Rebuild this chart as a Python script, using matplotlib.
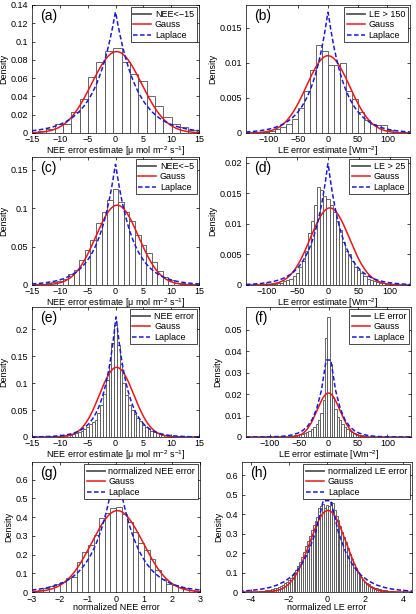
import numpy as np
import matplotlib.pyplot as plt
from matplotlib.lines import Line2D

plt.rcParams['font.family'] = ['Liberation Sans', 'DejaVu Sans']
plt.rcParams['mathtext.default'] = 'regular'
plt.rcParams['font.size'] = 6.5

# ---- histogram data (bin centres, bin width, density) ----
# (a) NEE < -15
a_centers = np.arange(-13.17, 14.0, 1.5)
a_dens = [0.002, 0.004, 0.010, 0.010, 0.023, 0.037, 0.061, 0.078, 0.090, 0.093,
          0.078, 0.065, 0.057, 0.041, 0.030, 0.017, 0.010, 0.007, 0.003]
# (b) LE > 150
b_centers = np.arange(-125, 126, 10)
b_dens = [0.0001, 0.0001, 0.0002, 0.0003, 0.0005, 0.0008, 0.0013, 0.0020, 0.0035,
          0.0060, 0.0090, 0.0125, 0.0117, 0.0097, 0.0096, 0.0100, 0.0060, 0.0048,
          0.0030, 0.0018, 0.0013, 0.0012, 0.0012, 0.0004, 0.0002, 0.0001]
# (c) NEE < -5
c_centers = np.arange(-14, 15, 1)
c_dens = [0.001, 0.001, 0.002, 0.004, 0.005, 0.008, 0.014, 0.020, 0.033, 0.046,
          0.058, 0.080, 0.095, 0.110, 0.125, 0.108, 0.095, 0.083, 0.065, 0.052,
          0.042, 0.030, 0.018, 0.010, 0.006, 0.003, 0.002, 0.001, 0.001]
# (d) LE > 25
d_centers = np.arange(-100, 101, 5)
d_dens = [0.0001, 0.0001, 0.0002, 0.0002, 0.0003, 0.0004, 0.0006, 0.0008, 0.0010,
          0.0015, 0.0020, 0.0030, 0.0040, 0.0055, 0.0085, 0.0105, 0.0130, 0.0160,
          0.0155, 0.0145, 0.0140, 0.0130, 0.0120, 0.0105, 0.0090, 0.0070, 0.0055,
          0.0050, 0.0040, 0.0030, 0.0025, 0.0020, 0.0015, 0.0010, 0.0008, 0.0006,
          0.0005, 0.0004, 0.0003, 0.0002, 0.0001]
# (e) all NEE errors
e_centers = np.arange(-12, 12.1, 0.5)
e_dens = [0.000, 0.001, 0.002, 0.002, 0.002, 0.002, 0.003, 0.003, 0.004, 0.005,
          0.007, 0.009, 0.011, 0.014, 0.018, 0.024, 0.028, 0.032, 0.045, 0.060,
          0.080, 0.105, 0.135, 0.175, 0.208, 0.170, 0.135, 0.100, 0.078, 0.060,
          0.050, 0.043, 0.036, 0.029, 0.022, 0.018, 0.014, 0.011, 0.009, 0.007,
          0.005, 0.004, 0.003, 0.002, 0.002, 0.001, 0.001, 0.001, 0.000]
# (f) all LE errors
f_centers = np.arange(-60, 61, 4)
f_dens = [0.0005, 0.0007, 0.0009, 0.0012, 0.0015, 0.0018, 0.0022, 0.0028, 0.0035,
          0.0045, 0.0060, 0.0080, 0.0110, 0.0170, 0.0460, 0.0560, 0.0340, 0.0180,
          0.0130, 0.0095, 0.0080, 0.0060, 0.0045, 0.0035, 0.0028, 0.0022, 0.0018,
          0.0014, 0.0010, 0.0008, 0.0006]
# (g) normalized NEE error
g_centers = np.arange(-2.9, 3.0, 0.2)
g_dens = [0.005, 0.012, 0.020, 0.030, 0.045, 0.055, 0.075, 0.080, 0.160, 0.215,
          0.250, 0.305, 0.395, 0.420, 0.450, 0.455, 0.415, 0.375, 0.320, 0.260,
          0.225, 0.175, 0.120, 0.070, 0.045, 0.035, 0.025, 0.020, 0.012, 0.008]
# (h) normalized LE error
h_centers = np.arange(-3.5, 3.51, 0.1)
h_dens = [0.005, 0.006, 0.007, 0.008, 0.010, 0.012, 0.014, 0.016, 0.019, 0.022,
          0.026, 0.031, 0.037, 0.044, 0.052, 0.062, 0.072, 0.085, 0.100, 0.115,
          0.135, 0.155, 0.180, 0.205, 0.235, 0.265, 0.290, 0.320, 0.345, 0.365,
          0.385, 0.430, 0.440, 0.455, 0.430, 0.450, 0.440, 0.465, 0.460, 0.420,
          0.390, 0.370, 0.340, 0.310, 0.285, 0.255, 0.225, 0.195, 0.170, 0.145,
          0.125, 0.105, 0.090, 0.075, 0.064, 0.054, 0.046, 0.039, 0.033, 0.028,
          0.023, 0.019, 0.016, 0.013, 0.011, 0.009, 0.008, 0.007, 0.006, 0.005,
          0.004]

# fitted curves: gauss (mean, sigma), laplace (mean, scale b, peak), x step of the curve
fits = {
    'a': (0.2, 4.48, 0.0, 3.76, 0.133, 0.05),
    'b': (0.0, 36.3, 0.0, 28.9, 0.0173, 0.5),
    'c': (0.3, 3.84, 0.0, 3.16, 0.158, 0.05),
    'd': (3.0, 31.7, 0.0, 25.0, 0.020, 0.5),
    'e': (0.2, 3.09, 0.1, 2.22, 0.225, 0.05),
    'f': (0.0, 19.5, 0.0, 16.0, 0.046, 8.0),
    'g': (0.05, 0.917, 0.0, 0.72, 0.694, 0.01),
    'h': (0.05, 0.95, 0.0, 0.935, 0.582, 0.4),
}

nee_label = r'NEE error estimate [$\mu$ mol m$^{-2}$ s$^{-1}$]'
le_label = r'LE error estimate [Wm$^{-2}$]'

# name, box (left, top, right, bottom px), centres, width, dens, xlim, ylim, yticks, xticks, legend, xlabel
panels = [
    ('a', (32, 5, 199, 133), a_centers, 1.5, a_dens, (-15, 15), 0.14,
     np.arange(0, 0.141, 0.02), np.arange(-15, 16, 5), 'NEE<\u221215', nee_label),
    ('b', (246, 5, 410, 133), b_centers, 10, b_dens, (-138, 138), 0.0182,
     [0, 0.005, 0.01, 0.015], [-100, -50, 0, 50, 100], 'LE > 150', le_label),
    ('c', (32, 157, 199, 285), c_centers, 1.0, c_dens, (-15, 15), 0.1665,
     [0, 0.05, 0.1, 0.15], np.arange(-15, 16, 5), 'NEE<\u22125', nee_label),
    ('d', (246, 157, 410, 285), d_centers, 5, d_dens, (-133, 133), 0.0209,
     [0, 0.005, 0.01, 0.015, 0.02], [-100, -50, 0, 50, 100], 'LE > 25', le_label),
    ('e', (32, 307, 199, 437), e_centers, 0.5, e_dens, (-15, 15), 0.241,
     [0, 0.05, 0.1, 0.15, 0.2], np.arange(-15, 16, 5), 'NEE error', nee_label),
    ('f', (246, 307, 411, 437), f_centers, 4, f_dens, (-140, 140), 0.0605,
     [0, 0.01, 0.02, 0.03, 0.04, 0.05], [-100, -50, 0, 50, 100], 'LE error', le_label),
    ('g', (32, 462, 200, 592), g_centers, 0.2, g_dens, (-3, 3), 0.695,
     np.arange(0, 0.61, 0.1), np.arange(-3, 4, 1), 'normalized NEE error', 'normalized NEE error'),
    ('h', (242, 462, 412, 592), h_centers, 0.1, h_dens, (-4.45, 4.45), 0.669,
     np.arange(0, 0.61, 0.1), [-4, -2, 0, 2, 4], 'normalized LE error', 'normalized LE error'),
]

W, H = 416, 614
fig = plt.figure(figsize=(W / 100, H / 100), dpi=100)

for name, box, centers, width, dens, xlim, ytop, yticks, xticks, leg, xlabel in panels:
    l, t, r, b = box
    ax = fig.add_axes([l / W, 1 - b / H, (r - l) / W, (b - t) / H])
    ax.bar(centers, dens, width=width, facecolor='white', edgecolor='#505050',
           linewidth=0.6, zorder=2)

    gm, gs, lm, lb, lp, step = fits[name]
    # curves evaluated on a grid symmetric about zero (half step offset)
    half = np.arange(step / 2, xlim[1] + step, step)
    x = np.concatenate([-half[::-1], half])
    xg = np.linspace(xlim[0], xlim[1], 801)
    gauss = np.exp(-0.5 * ((xg - gm) / gs) ** 2) / (gs * np.sqrt(2 * np.pi))
    lapl = lp * np.exp(-np.abs(x - lm) / lb)
    ax.plot(xg, gauss, color='#e8161b', linewidth=1.1, zorder=3)
    ax.plot(x, lapl, color='#1a1ad6', linewidth=1.1, linestyle=(0, (3, 1.6)), zorder=4)

    ax.set_xlim(xlim)
    ax.set_ylim(0, ytop)
    ax.set_yticks(yticks)
    ax.set_yticklabels(['0' if v == 0 else ('%g' % v) for v in yticks])
    ax.set_xticks(xticks)
    ax.tick_params(direction='in', length=2.5, width=0.5, top=True, right=True,
                   labelsize=6.5)
    ax.tick_params(axis='x', pad=1.8)
    ax.tick_params(axis='y', pad=2.8)
    for s in ax.spines.values():
        s.set_linewidth(0.5)
    ax.set_xlabel(xlabel, fontsize=6.5, labelpad=-0.3)
    ax.set_ylabel('Density', fontsize=6.5, labelpad=1.5)
    ax.text(0.05, 0.97, '(%s)' % name, transform=ax.transAxes, fontsize=10,
            va='top', ha='left', zorder=6)

    handles = [Line2D([], [], color='#555555', linewidth=1.3),
               Line2D([], [], color='#e8161b', linewidth=1.1),
               Line2D([], [], color='#1a1ad6', linewidth=1.1, linestyle=(0, (3, 1.6)))]
    lg = ax.legend(handles, [leg, 'Gauss', 'Laplace'], loc='upper right',
                   fontsize=6.5, frameon=True, fancybox=False, framealpha=1,
                   edgecolor='black', borderaxespad=0.25, borderpad=0.3,
                   labelspacing=0.15, handlelength=2.0, handletextpad=0.4)
    lg.get_frame().set_linewidth(0.5)
    lg.set_zorder(7)

fig.savefig('out.png', dpi=100)
